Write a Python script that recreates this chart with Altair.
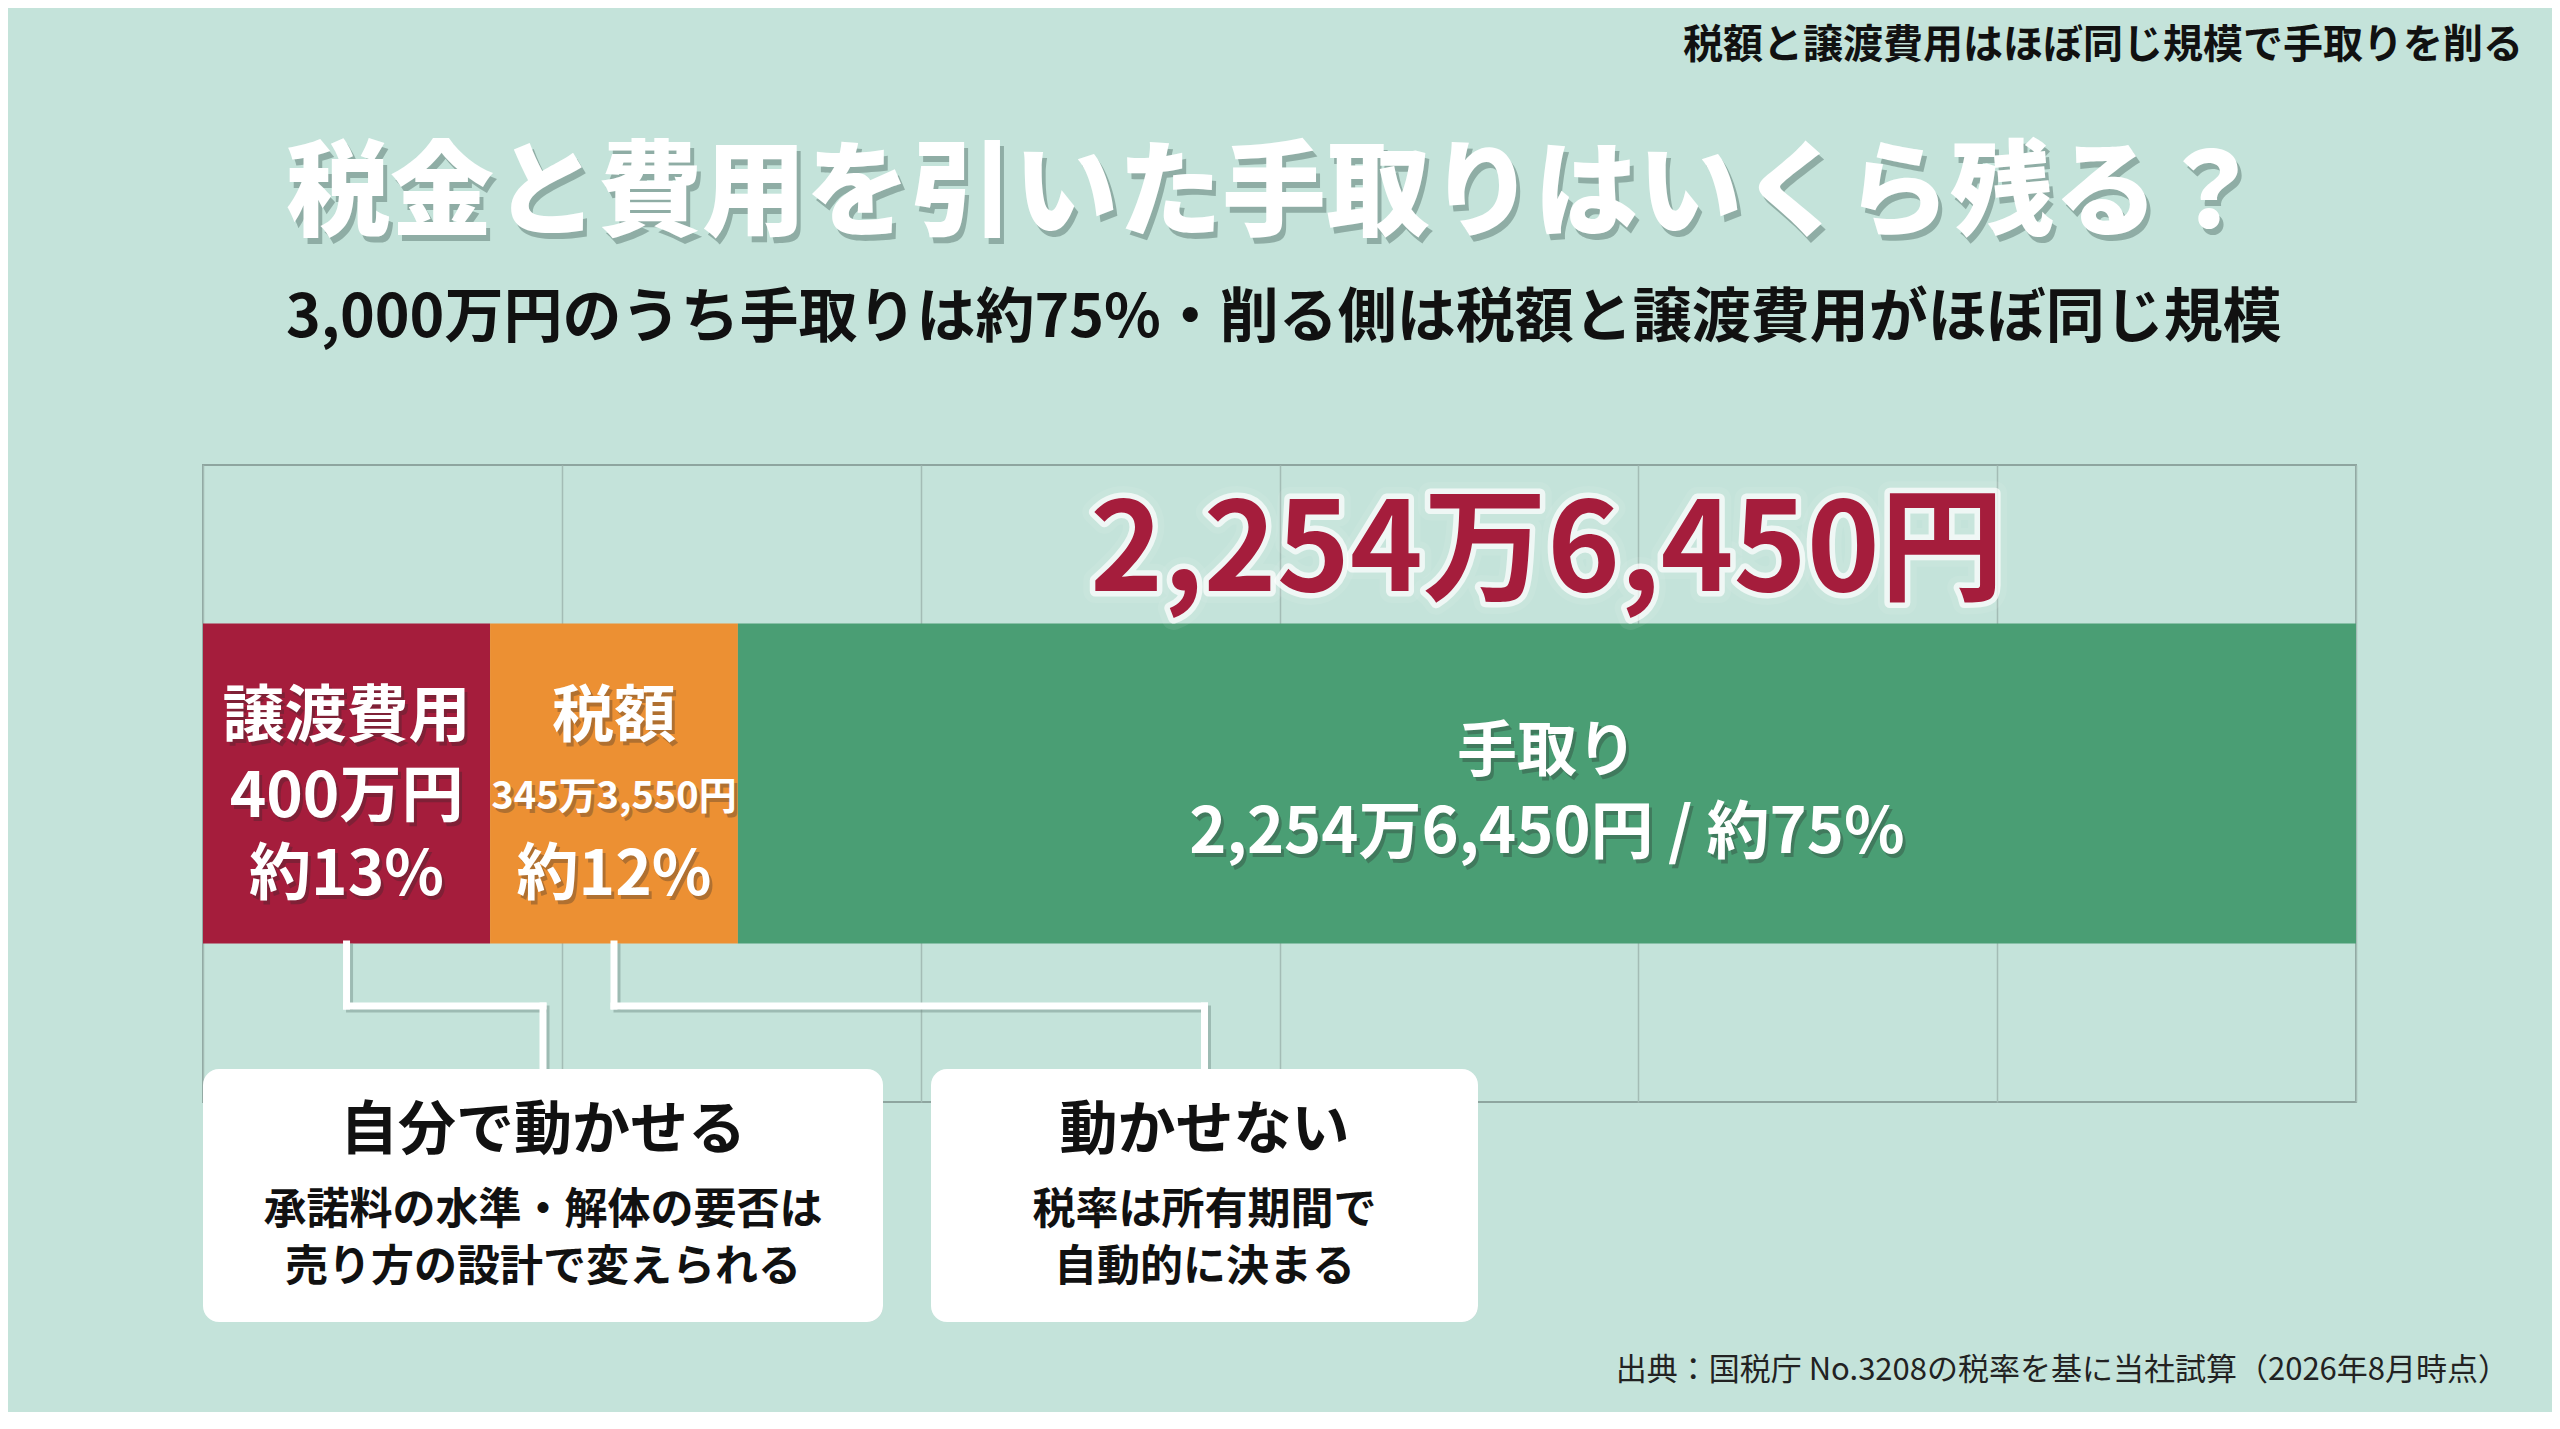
import altair as alt
import pandas as pd

# ---------------- data ----------------
categories = ["譲渡費用", "税額", "手取り"]
amounts_yen = [4000000, 3453550, 22546450]
amount_labels = ["400万円", "345万3,550円", "2,254万6,450円"]
share_labels = ["約13%", "約12%", "約75%"]
x_ticks = [0, 500, 1000, 1500, 2000, 2500, 3000]  # 万円

box_titles = ["自分で動かせる", "動かせない"]
box_line1 = ["承諾料の水準・解体の要否は", "税率は所有期間で"]
box_line2 = ["売り方の設計で変えられる", "自動的に決まる"]

title_text = "税金と費用を引いた手取りはいくら残る？"
subtitle_text = "3,000万円のうち手取りは約75%・削る側は税額と譲渡費用がほぼ同じ規模"
note_text = "税額と譲渡費用はほぼ同じ規模で手取りを削る"
source_text = "出典：国税庁 No.3208の税率を基に当社試算（2026年8月時点）"

# ---------------- style ----------------
FONT = "Noto Sans CJK JP"
bar_colors = ["#a51d3c", "#ec9033", "#4a9e74"]
BG = "#c4e3da"
W, H = 2153, 637

df = pd.DataFrame({
    "cat": categories,
    "man": [a / 10000 for a in amounts_yen],
    "amt": amount_labels,
    "pct": share_labels,
})
df["end"] = df["man"].cumsum()
df["start"] = df["end"] - df["man"]
df["mid"] = (df["start"] + df["end"]) / 2
df["row"] = "合計"
df["combo"] = df["amt"] + " / " + df["pct"]

xscale = alt.Scale(domain=[0, 3000], nice=False, zero=True)
yscale = alt.Scale(type="band", paddingInner=0, paddingOuter=0.4953)
XAXIS = alt.Axis(values=x_ticks, grid=True, labels=False, ticks=False, domain=False,
                 title=None, gridColor="#a3bcb5", gridWidth=1.5)
X = alt.X("mid:Q", scale=xscale, axis=XAXIS)
Y = alt.Y("row:N", scale=yscale, axis=None)


def is_cat(c):
    return f"datum.cat === '{c}'"


layers = []

# bars
layers.append(
    alt.Chart(df).mark_bar().encode(
        x=alt.X("start:Q", scale=xscale, axis=XAXIS),
        x2="end:Q",
        y=Y,
        color=alt.Color("cat:N", scale=alt.Scale(domain=categories, range=bar_colors), legend=None),
    )
)


def bar_text(expr, field, size, dy):
    base = alt.Chart(df).transform_filter(expr)
    enc = dict(x=X, y=Y, text=f"{field}:N")
    return [
        base.mark_text(font=FONT, fontWeight="bold", fontSize=size, dx=3, dy=dy + 4,
                       color="#2a2a2a", opacity=0.3).encode(**enc),
        base.mark_text(font=FONT, fontWeight="bold", fontSize=size, dy=dy,
                       color="white").encode(**enc),
    ]


costs = f"datum.cat !== '{categories[2]}'"
layers += bar_text(costs, "cat", 62, -66)
layers += bar_text(is_cat(categories[0]), "amt", 62, 14)
layers += bar_text(is_cat(categories[1]), "amt", 38, 14)
layers += bar_text(costs, "pct", 62, 92)
layers += bar_text(is_cat(categories[2]), "cat", 60, -31)
layers += bar_text(is_cat(categories[2]), "combo", 63, 50)

# big take-home label above the green bar
big = alt.Chart(df).transform_filter(is_cat(categories[2]))
big_enc = dict(x=X, y=Y, text="amt:N")
BIG = 124
layers.append(big.mark_text(font=FONT, fontWeight="bold", fontSize=BIG, dy=-230, color="white",
                            stroke="white", strokeWidth=24, strokeOpacity=0.25, opacity=0.3,
                            strokeJoin="round").encode(**big_enc))
layers.append(big.mark_text(font=FONT, fontWeight="bold", fontSize=BIG, dy=-230, color="white",
                            stroke="white", strokeWidth=11, strokeOpacity=0.7,
                            strokeJoin="round").encode(**big_enc))
layers.append(big.mark_text(font=FONT, fontWeight="bold", fontSize=BIG, dy=-230,
                            color=bar_colors[0]).encode(**big_enc))

# connectors and note boxes
bar_bottom, conn_y, box_top, box_bottom = 479, 541, 604, 857
box_x = [(0, 680), (728, 1275)]
box_df = pd.DataFrame({"title": box_titles, "l1": box_line1, "l2": box_line2})

for i in range(2):
    base = alt.Chart(df).transform_filter(is_cat(categories[i]))
    x0, x1 = box_x[i]
    bc = (x0 + x1) / 2
    for style in ({"color": "#6f8a82", "opacity": 0.45, "xOffset": 3, "yOffset": 3},
                  {"color": "white"}):
        layers.append(base.mark_rule(strokeWidth=7, strokeCap="square", **style).encode(
            x=X, y=alt.value(bar_bottom), y2=alt.value(conn_y)))
        layers.append(base.mark_rule(strokeWidth=7, strokeCap="square", **style).encode(
            x=X, x2=alt.value(bc), y=alt.value(conn_y)))
        layers.append(base.mark_rule(strokeWidth=7, strokeCap="square", **style).encode(
            x=alt.value(bc), y=alt.value(conn_y), y2=alt.value(box_top)))

    bbase = alt.Chart(box_df).transform_filter(f"datum.title === '{box_titles[i]}'")
    layers.append(bbase.mark_rect(cornerRadius=16, color="#3d5750", opacity=0.22,
                                  xOffset=3, yOffset=6).encode(
        x=alt.value(x0), x2=alt.value(x1), y=alt.value(box_top), y2=alt.value(box_bottom)))
    layers.append(bbase.mark_rect(cornerRadius=16, color="white").encode(
        x=alt.value(x0), x2=alt.value(x1), y=alt.value(box_top), y2=alt.value(box_bottom)))
    layers.append(bbase.mark_text(font=FONT, fontWeight="bold", fontSize=58, color="#111").encode(
        x=alt.value(bc), y=alt.value(667), text="title:N"))
    layers.append(bbase.mark_text(font=FONT, fontWeight="bold", fontSize=43, color="#111").encode(
        x=alt.value(bc), y=alt.value(746), text="l1:N"))
    layers.append(bbase.mark_text(font=FONT, fontWeight="bold", fontSize=43, color="#111").encode(
        x=alt.value(bc), y=alt.value(803), text="l2:N"))

# headings and footer
ann = pd.DataFrame({"title": [title_text], "subtitle": [subtitle_text],
                    "note": [note_text], "source": [source_text]})
A = alt.Chart(ann)
layers.append(A.mark_text(font=FONT, fontWeight=900, fontSize=104, align="left",
                          color="#2f4c45", opacity=0.35, dx=4, dy=6).encode(
    x=alt.value(83), y=alt.value(-268), text="title:N"))
layers.append(A.mark_text(font=FONT, fontWeight=900, fontSize=104, align="left",
                          color="white").encode(
    x=alt.value(83), y=alt.value(-268), text="title:N"))
layers.append(A.mark_text(font=FONT, fontWeight="bold", fontSize=59, align="left",
                          color="#111").encode(
    x=alt.value(83), y=alt.value(-146), text="subtitle:N"))
layers.append(A.mark_text(font=FONT, fontWeight="bold", fontSize=40, align="right",
                          color="#111").encode(
    x=alt.value(2320), y=alt.value(-419), text="note:N"))
layers.append(A.mark_text(font=FONT, fontSize=31, align="right", color="#222").encode(
    x=alt.value(2306), y=alt.value(906), text="source:N"))

chart = alt.layer(*layers).properties(
    width=W,
    height=H,
    autosize=alt.AutoSizeParams(type="none"),
    padding={"left": 195, "top": 457, "right": 196, "bottom": 310},
    background=BG,
).configure_view(stroke="#8ea59f", strokeWidth=2)

chart.save("out.html", embed_options={"renderer": "svg", "actions": False})
